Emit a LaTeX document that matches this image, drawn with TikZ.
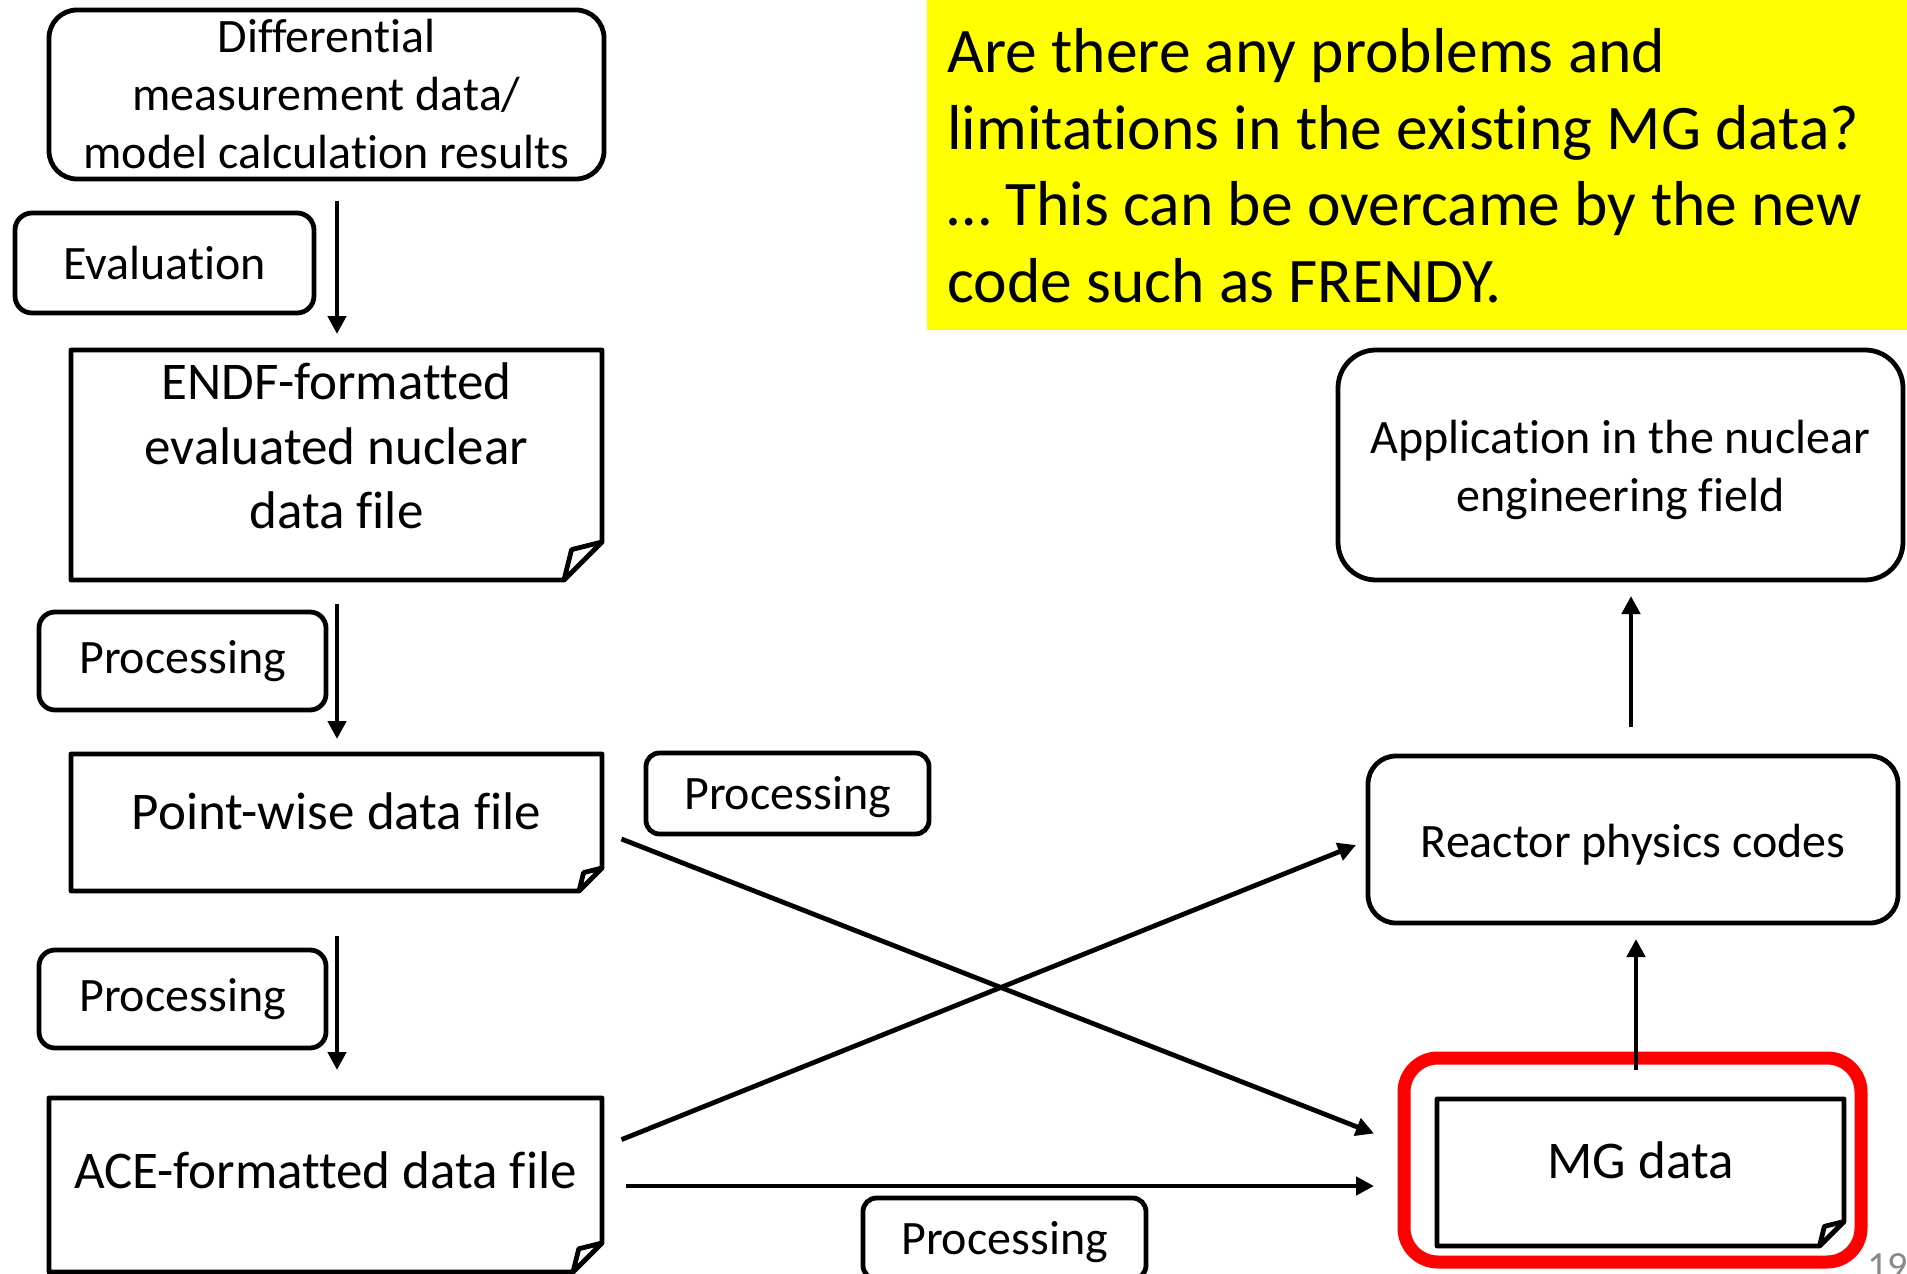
\documentclass[tikz,border=0pt]{standalone}
\usepackage{fontspec}
\setmainfont{Carlito}[RawFeature={-liga;-clig}]
\usetikzlibrary{arrows.meta}

\definecolor{hlyellow}{RGB}{255,255,0}
\definecolor{hlred}{RGB}{255,0,0}
\definecolor{pagegray}{RGB}{137,137,137}

\tikzset{
  boxline/.style={line width=2.4pt, line join=round},
  rbox/.style={draw, line width=2.4pt, rounded corners=#1, inner sep=0pt,
    outer sep=0pt, align=center},
  fbox/.style={inner sep=0pt, outer sep=0pt, align=center},
  small/.style={font=\fontsize{24}{29}\selectfont},
  medium/.style={font=\fontsize{26.5}{32.3}\selectfont},
  arr/.style={line width=2.4pt, -{Triangle[length=9pt,width=9pt]}},
}

% outline of a sheet with a folded bottom-right corner around node #1, fold size #2
\newcommand\foldoutline[2]{%
  \draw[boxline, fill=white] (#1.north west) -- (#1.north east)
    -- ([yshift=#2]#1.south east) -- ([xshift=-#2]#1.south east)
    -- (#1.south west) -- cycle;
  \draw[boxline, fill=white] ([xshift=-#2]#1.south east)
    -- ([xshift=-0.8*#2, yshift=0.8*#2]#1.south east)
    -- ([yshift=#2]#1.south east) -- cycle;
}

\begin{document}
\begin{tikzpicture}[x=0.5pt, y=-0.5pt]
\useasboundingbox (0,0) rectangle (1907,1274);

% question box
\fill[hlyellow] (927,0) rectangle (1907,330);
\node[anchor=north west, align=left, inner sep=0pt,
  font=\fontsize{31.75}{38.3}\selectfont] (question) at (947,28)
  {Are there any problems and\\
   limitations in the existing MG data?\\
   \ldots\ This can be overcame by the new\\
   code such as FRENDY.};

% left column: evaluation / processing chain
\node[rbox=14pt, small, minimum width=277.5pt, minimum height=84.5pt] (meas)
  at (326.5,94.5) {Differential\\measurement data/\\model calculation results};
\node[rbox=8.5pt, small, minimum width=149.5pt, minimum height=50pt] (eval)
  at (164.5,263) {Evaluation};

\node[fbox, medium, minimum width=265.5pt, minimum height=115pt] (endf)
  at (336.5,465) {};
\foldoutline{endf}{19pt}
\node[medium, align=center] at ([yshift=9.5pt]endf.center) {ENDF-formatted\\evaluated nuclear\\data file};

\node[rbox=8pt, small, minimum width=143.5pt, minimum height=49pt] (proca)
  at (182.5,661) {Processing};

\node[fbox, medium, minimum width=265.5pt, minimum height=68.5pt] (pw)
  at (336.5,822.5) {};
\foldoutline{pw}{11.5pt}
\node[medium] at ([yshift=5.5pt]pw.center) {Point-wise data file};

\node[rbox=6.75pt, small, minimum width=141.5pt, minimum height=40.5pt] (procb)
  at (787.5,793.5) {};
\node[small] at ([yshift=-1.8pt]procb.center) {Processing};
\node[rbox=8pt, small, minimum width=143.5pt, minimum height=49pt] (procc)
  at (182.5,999) {Processing};

\node[fbox, medium, minimum width=276.5pt, minimum height=87pt] (ace)
  at (325.5,1185) {};
\foldoutline{ace}{14.5pt}
\node[medium] at ([yshift=7.5pt]ace.center) {ACE-formatted data file};

\node[rbox=6.75pt, small, minimum width=141.5pt, minimum height=40.5pt] (procd)
  at (1004.5,1238.5) {};
\node[small] at ([yshift=-1.8pt]procd.center) {Processing};

% right column: application side
\node[rbox=19pt, small, minimum width=282.5pt, minimum height=115pt] (app)
  at (1620.5,465) {};
\node[small, align=center] at ([yshift=-2.5pt]app.center) {Application in the nuclear\\engineering field};
\node[rbox=14pt, small, minimum width=265pt, minimum height=83.5pt] (reactor)
  at (1633,839.5) {};
\node[small] at ([yshift=-2.5pt]reactor.center) {Reactor physics codes};

\node[draw=hlred, line width=6.5pt, rounded corners=17pt, inner sep=0pt,
  minimum width=228.5pt, minimum height=102pt] (focus) at (1632.5,1160) {};
\node[fbox, medium, minimum width=203.5pt, minimum height=73.5pt] (mg)
  at (1640.5,1172.5) {};
\foldoutline{mg}{12.25pt}
\node[medium] at ([yshift=6pt]mg.center) {MG data};

% page number
\node[anchor=base west, inner sep=0pt, text=pagegray,
  font=\fontsize{20}{24}\selectfont] (pageno) at (1867,1279) {19};

% connectors
\draw[arr] ([xshift=5.25pt,yshift=-11pt]meas.south) -- ([xshift=0.25pt,yshift=8pt]endf.north);
\draw[arr] ([xshift=0.25pt,yshift=-12pt]endf.south) -- ([xshift=0.25pt,yshift=7.5pt]pw.north);
\draw[arr] ([xshift=0.25pt,yshift=-22.5pt]pw.south) -- ([xshift=5.75pt,yshift=14pt]ace.north);
\draw[arr] ([xshift=9.75pt,yshift=-8.25pt]pw.east) -- ([xshift=-31.5pt,yshift=19.5pt]mg.west);
\draw[arr] ([xshift=9.75pt,yshift=22.7pt]ace.east) -- ([xshift=-6pt,yshift=-2.75pt]reactor.west);
\draw[arr] ([xshift=12pt,yshift=-0.5pt]ace.east) -- ([xshift=-31.5pt,yshift=-6.75pt]mg.west);
\draw[arr] ([xshift=-2.25pt,yshift=14.5pt]mg.north) -- ([xshift=1.5pt,yshift=-8pt]reactor.south);
\draw[arr] ([xshift=-1pt,yshift=14.5pt]reactor.north) -- ([xshift=5.25pt,yshift=-8pt]app.south);
\end{tikzpicture}
\end{document}
